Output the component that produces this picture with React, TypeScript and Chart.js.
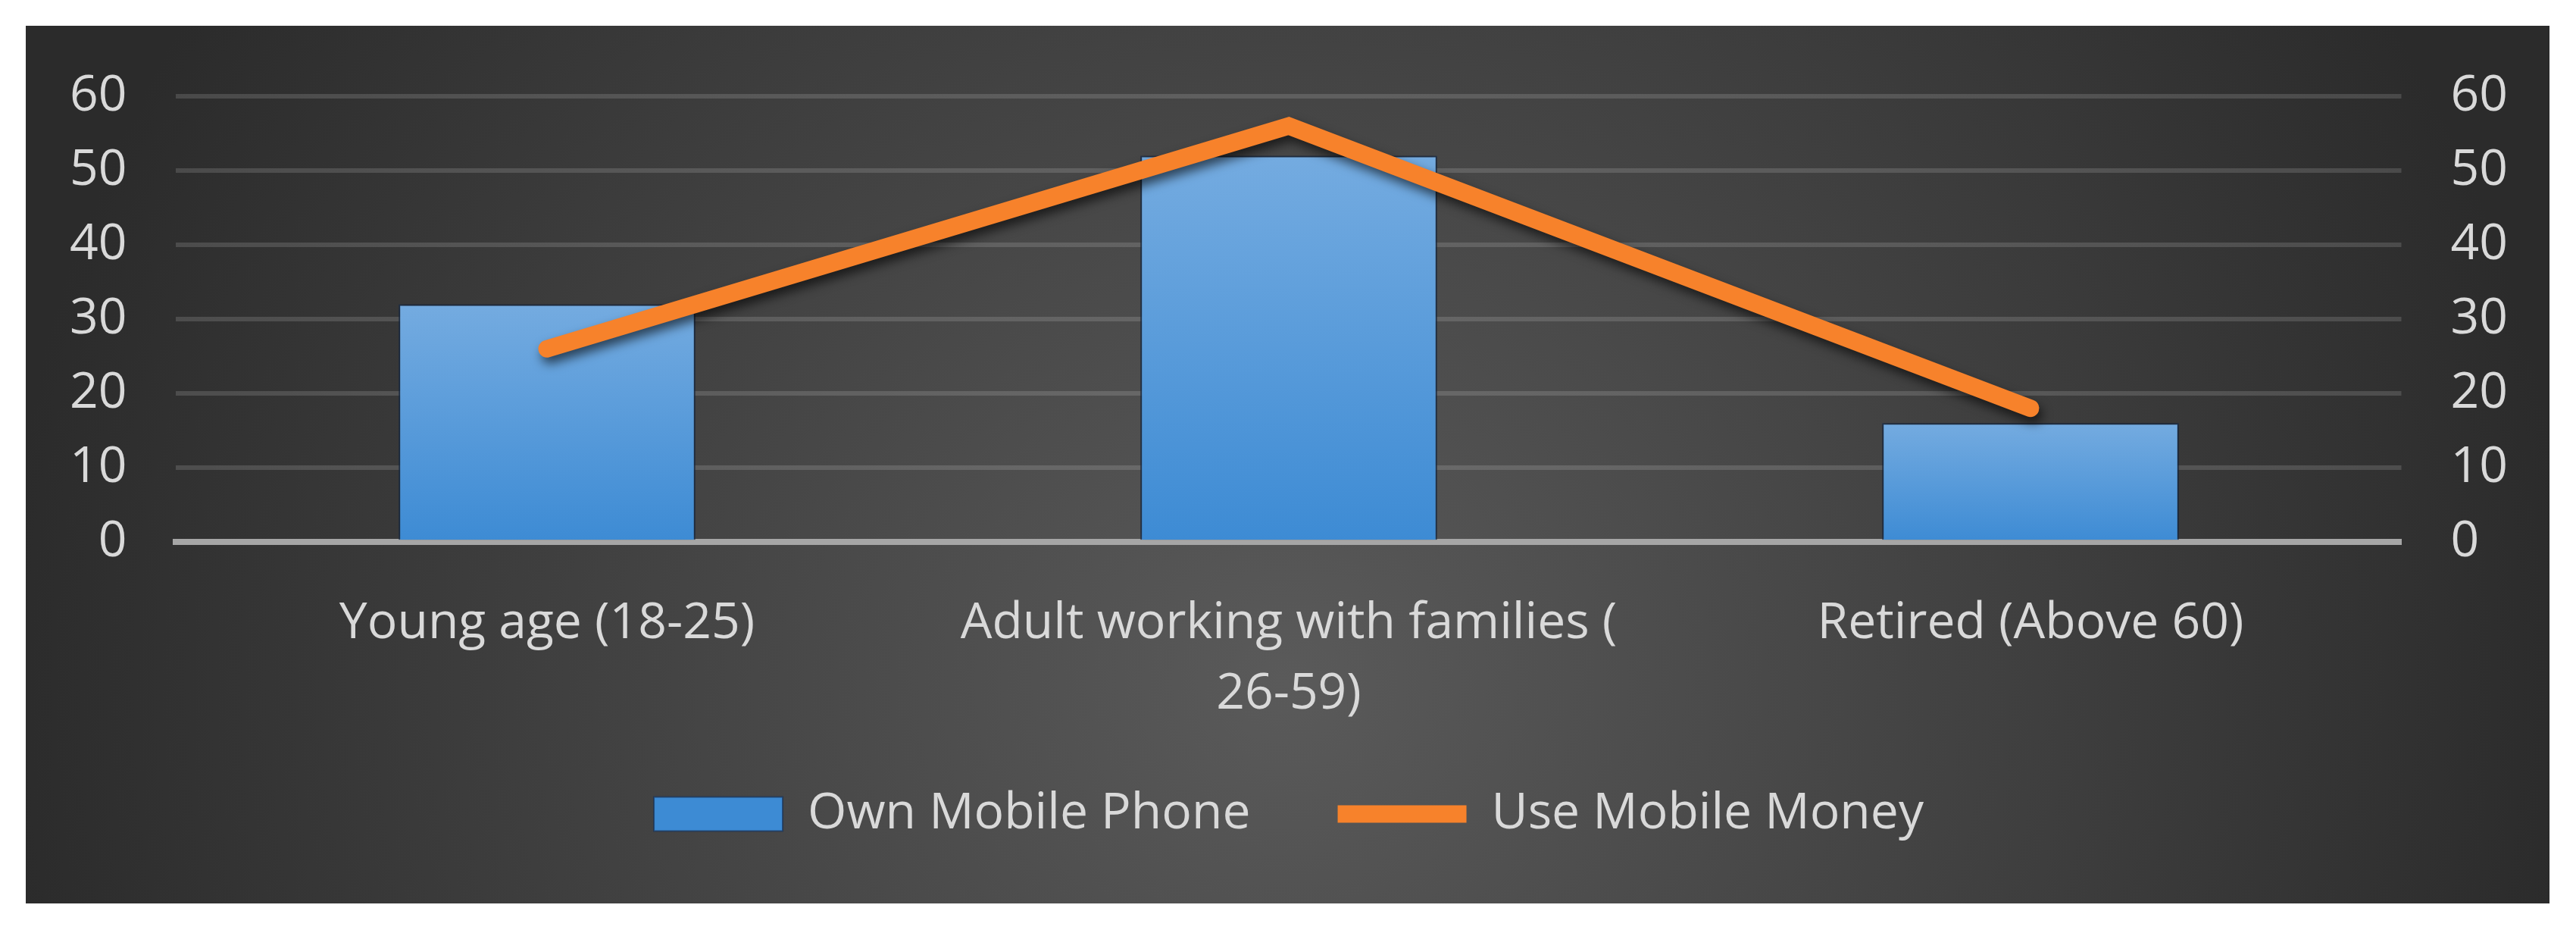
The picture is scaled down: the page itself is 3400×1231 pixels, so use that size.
import { useEffect, useRef } from 'react';
import { Chart, registerables } from 'chart.js';

Chart.register(...registerables);

const categories: (string | string[])[] = [
  'Young age (18-25)',
  ['Adult working with families (', '26-59)'],
  'Retired (Above 60)',
];
const ownMobilePhone = [32, 52, 16];
const useMobileMoney = [26, 56, 18];
const yTicks = [0, 10, 20, 30, 40, 50, 60];
const seriesNames = ['Own Mobile Phone', 'Use Mobile Money'];

const FONT = '"Open Sans", "Noto Sans", sans-serif';
const TEXT = '#d9d9d9';

const shadowPlugin = {
  id: 'shadowPlugin',
  beforeDatasetDraw(chart: any, args: any) {
    const ctx = chart.ctx;
    ctx.save();
    if (args.meta.type === 'line') {
      ctx.shadowColor = 'rgba(0,0,0,0.6)';
      ctx.shadowBlur = 14;
      ctx.shadowOffsetX = 4;
      ctx.shadowOffsetY = 8;
    } else {
      ctx.shadowColor = 'rgba(0,0,0,0.45)';
      ctx.shadowBlur = 10;
      ctx.shadowOffsetX = 0;
      ctx.shadowOffsetY = 0;
    }
  },
  afterDatasetDraw(chart: any) {
    chart.ctx.restore();
  },
};

// Pull the legend up a little into the free space below the axis labels,
// so its vertical position matches while keeping the wide item spacing.
const legendShift = {
  id: 'legendShift',
  afterLayout(chart: any) {
    const lg = chart.legend;
    if (lg) {
      lg.top -= 36;
      lg.bottom -= 36;
    }
  },
};

export default function App() {
  const ref = useRef<HTMLCanvasElement | null>(null);

  useEffect(() => {
    if (!ref.current) return;
    const chart = new Chart(ref.current, {
      type: 'bar',
      data: {
        labels: categories,
        datasets: [
          {
            type: 'bar',
            label: seriesNames[0],
            data: ownMobilePhone,
            order: 2,
            yAxisID: 'y',
            pointStyle: 'rect',
            backgroundColor: (c: any) => {
              const chart = c.chart;
              const area = chart.chartArea;
              if (!area || c.raw === undefined) return '#5b9bd5';
              const yTop = chart.scales.y.getPixelForValue(c.raw);
              const g = chart.ctx.createLinearGradient(0, yTop, 0, area.bottom);
              g.addColorStop(0, '#74abe0');
              g.addColorStop(1, '#3d8bd4');
              return g;
            },
            borderColor: 'rgba(25,50,85,0.7)',
            borderWidth: 2,
            categoryPercentage: 1,
            barPercentage: 0.4,
          } as any,
          {
            type: 'line',
            label: seriesNames[1],
            data: useMobileMoney,
            order: 1,
            yAxisID: 'y2',
            borderColor: '#f7822b',
            backgroundColor: '#f7822b',
            borderWidth: 23,
            borderCapStyle: 'round',
            borderJoinStyle: 'miter',
            pointRadius: 0,
            pointHoverRadius: 0,
            pointStyle: 'line',
            tension: 0,
          } as any,
        ],
      },
      options: {
        responsive: false,
        animation: false,
        layout: { padding: { left: 58, right: 55, top: 93, bottom: 39 } },
        scales: {
          x: {
            grid: { display: false, drawTicks: true, tickLength: 62, tickColor: 'rgba(0,0,0,0)' },
            border: { display: true, color: '#a6a6a6', width: 8 },
            ticks: {
              color: TEXT,
              font: { family: FONT, size: 66, lineHeight: 1.4 },
              padding: 0,
              maxRotation: 0,
              autoSkip: false,
            },
          },
          y: {
            position: 'left',
            min: yTicks[0],
            max: yTicks[yTicks.length - 1],
            grid: {
              color: 'rgba(255,255,255,0.14)',
              lineWidth: 6,
              drawTicks: true,
              tickLength: 65,
              tickColor: 'rgba(0,0,0,0)',
            },
            border: { display: false },
            ticks: {
              stepSize: 10,
              color: TEXT,
              padding: 0,
              font: { family: FONT, size: 66 },
            },
          },
          y2: {
            position: 'right',
            min: yTicks[0],
            max: yTicks[yTicks.length - 1],
            grid: { display: false, drawTicks: true, tickLength: 65, tickColor: 'rgba(0,0,0,0)' },
            border: { display: false },
            ticks: {
              stepSize: 10,
              color: TEXT,
              padding: 0,
              font: { family: FONT, size: 66 },
            },
          },
        },
        plugins: {
          legend: {
            position: 'bottom',
            labels: {
              usePointStyle: true,
              pointStyleWidth: 170,
              boxHeight: 45,
              padding: 115,
              color: TEXT,
              font: { family: FONT, size: 66 },
              sort: (a: any, b: any) => a.datasetIndex - b.datasetIndex,
            },
          },
          tooltip: { enabled: false },
        },
      },
      plugins: [shadowPlugin, legendShift],
    });
    return () => chart.destroy();
  }, []);

  return (
    <div
      style={{
        position: 'absolute',
        left: 0,
        top: 0,
        width: 3400,
        height: 1231,
        background: '#ffffff',
        overflow: 'hidden',
      }}
    >
      <div
        style={{
          position: 'absolute',
          left: 34,
          top: 34,
          width: 3331,
          height: 1158,
          background:
            'radial-gradient(circle 1700px at 50% 75%, #5a5a5a 0%, #4a4a4a 35%, #2b2b2b 100%)',
        }}
      >
        <canvas ref={ref} width={3331} height={1158} style={{ display: 'block' }} />
      </div>
    </div>
  );
}
